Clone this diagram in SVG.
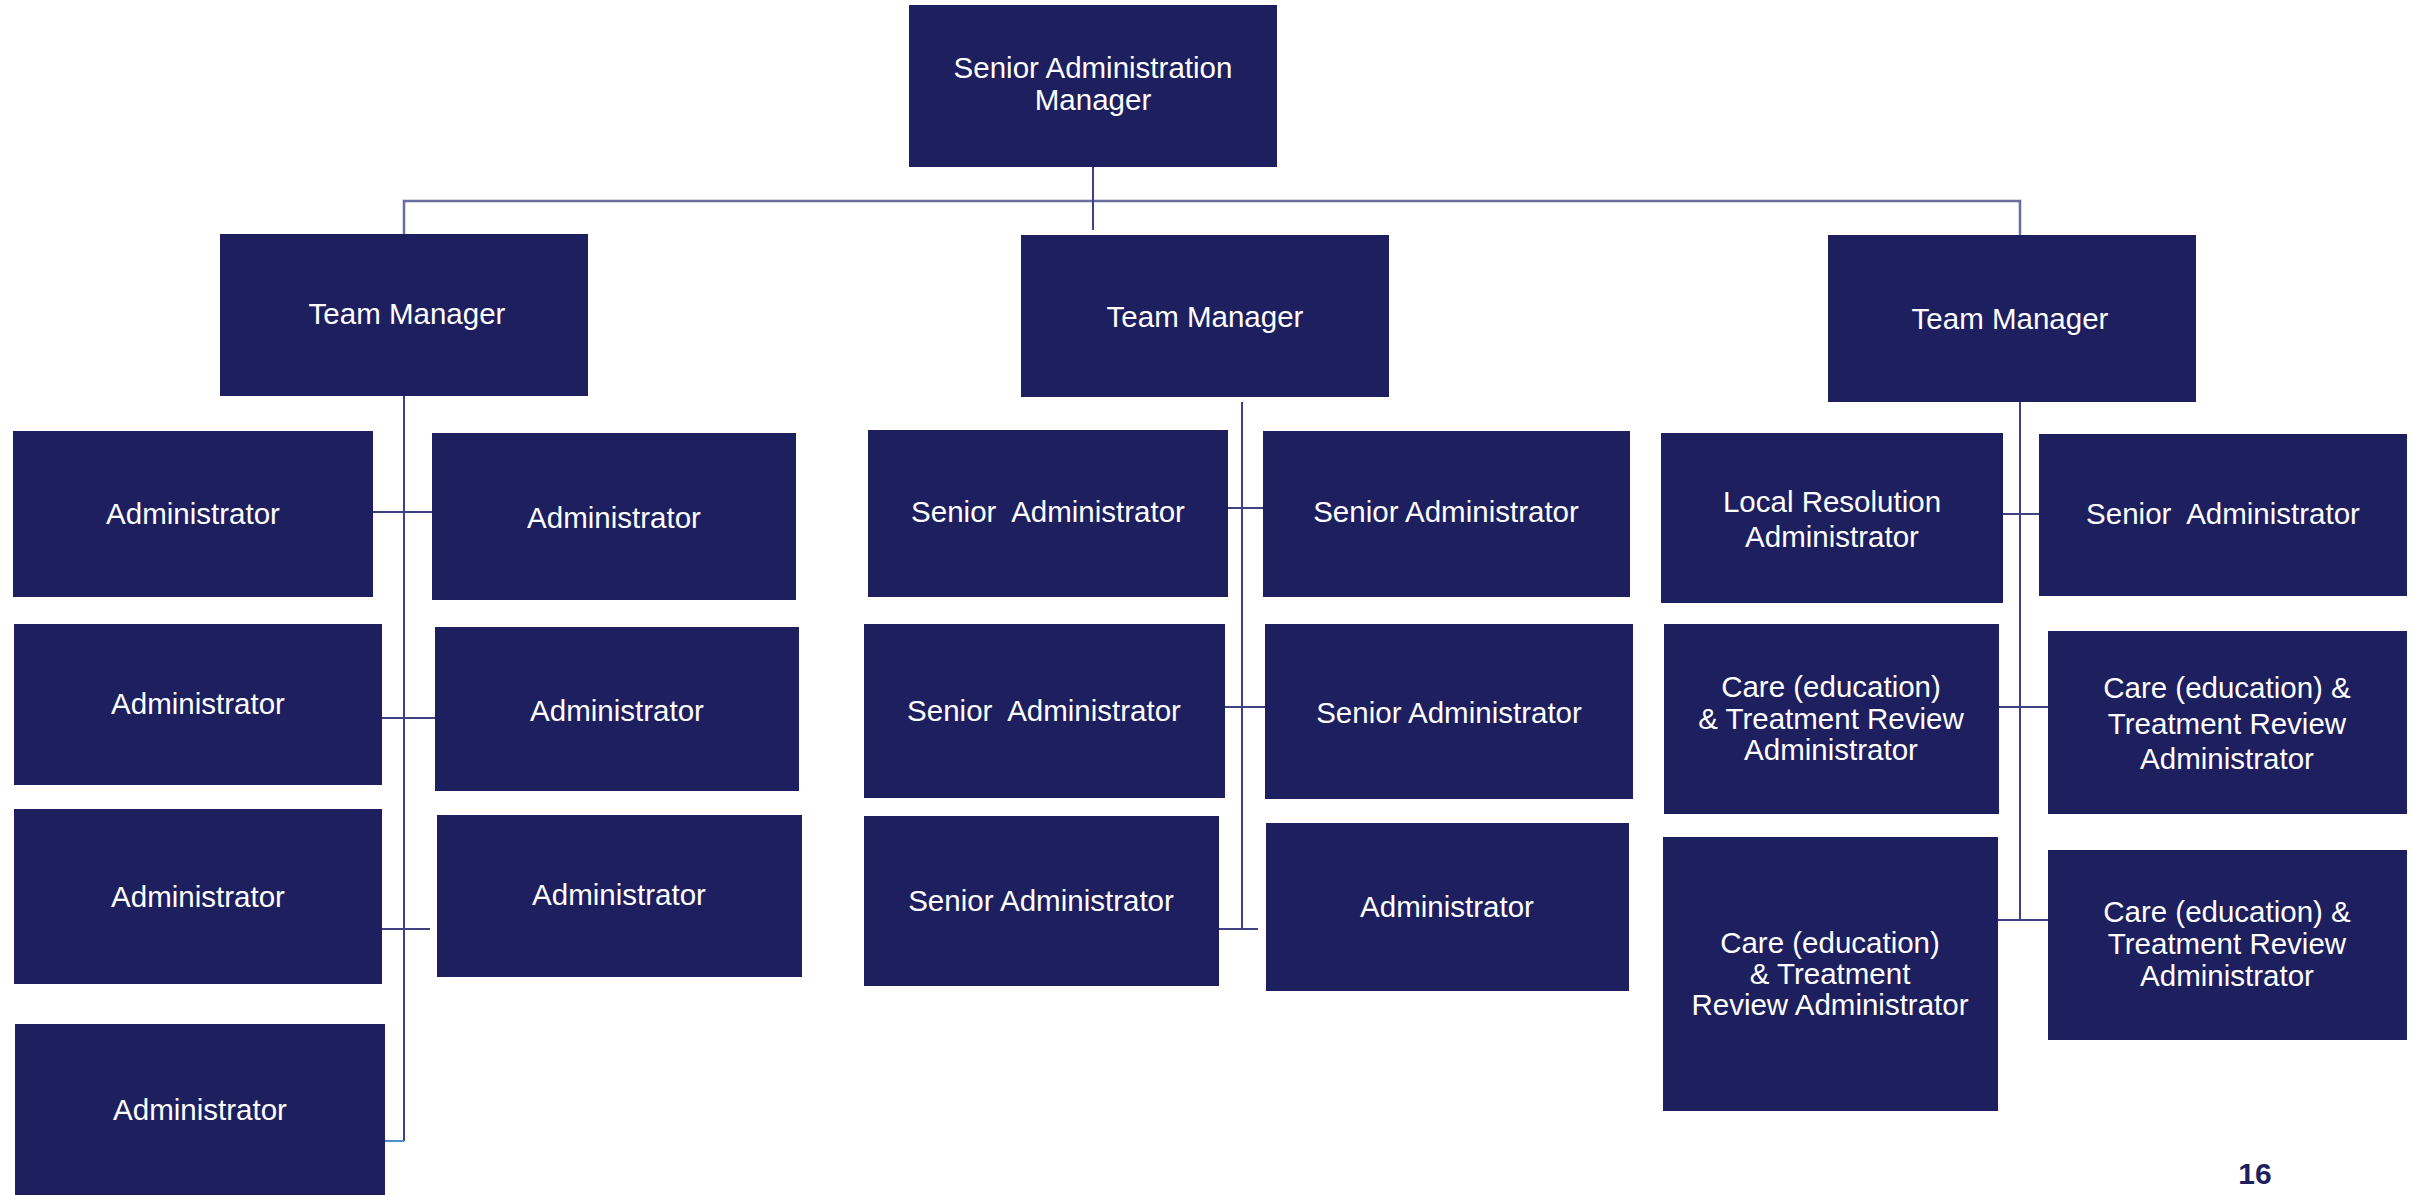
<svg xmlns="http://www.w3.org/2000/svg" width="2412" height="1195" viewBox="0 0 2412 1195">
<style>
.box{fill:#1e1f5f}
.t{font-family:"Liberation Sans",Arial,sans-serif;font-size:29.5px;fill:#ffffff;text-anchor:middle;white-space:pre}
.c{stroke:#3f4282;stroke-width:2;fill:none}
.top{stroke:#6a6da0;stroke-width:2.5;fill:none}
.lb{stroke:#4a8fd0;stroke-width:2;fill:none}
.num{font-family:"Liberation Sans",Arial,sans-serif;font-size:30px;font-weight:bold;fill:#1e1f5f;text-anchor:middle}
</style>
<rect width="2412" height="1195" fill="#ffffff"/>
<g id="connectors">
<polyline class="top" points="404,234 404,201 2020,201 2020,235"/>
<line class="c" x1="1093" y1="167" x2="1093" y2="230"/>
<line class="c" x1="404" y1="396" x2="404" y2="1141"/>
<line class="c" x1="373" y1="512" x2="432" y2="512"/>
<line class="c" x1="382" y1="718" x2="435" y2="718"/>
<line class="c" x1="382" y1="929" x2="430" y2="929"/>
<line class="lb" x1="385" y1="1141" x2="404" y2="1141"/>
<line class="c" x1="1242" y1="402" x2="1242" y2="929"/>
<line class="c" x1="1228" y1="508" x2="1263" y2="508"/>
<line class="c" x1="1225" y1="707" x2="1265" y2="707"/>
<line class="c" x1="1219" y1="929" x2="1258" y2="929"/>
<line class="c" x1="2020" y1="402" x2="2020" y2="920"/>
<line class="c" x1="2003" y1="514" x2="2039" y2="514"/>
<line class="c" x1="1999" y1="707" x2="2048" y2="707"/>
<line class="c" x1="1998" y1="920" x2="2048" y2="920"/>
</g>
<g id="sam"><rect class="box" x="909" y="5" width="368" height="162"/><text class="t" x="1093" y="78">Senior Administration</text><text class="t" x="1093" y="110">Manager</text></g>
<g id="tm1"><rect class="box" x="220" y="234" width="368" height="162"/><text class="t" x="407" y="324">Team Manager</text></g>
<g id="tm2"><rect class="box" x="1021" y="235" width="368" height="162"/><text class="t" x="1205" y="327">Team Manager</text></g>
<g id="tm3"><rect class="box" x="1828" y="235" width="368" height="167"/><text class="t" x="2010" y="329">Team Manager</text></g>

<g id="a1"><rect class="box" x="13" y="431" width="360" height="166"/><text class="t" x="193" y="524">Administrator</text></g>
<g id="a2"><rect class="box" x="432" y="433" width="364" height="167"/><text class="t" x="614" y="528">Administrator</text></g>
<g id="a3"><rect class="box" x="14" y="624" width="368" height="161"/><text class="t" x="198" y="714">Administrator</text></g>
<g id="a4"><rect class="box" x="435" y="627" width="364" height="164"/><text class="t" x="617" y="721">Administrator</text></g>
<g id="a5"><rect class="box" x="14" y="809" width="368" height="175"/><text class="t" x="198" y="907">Administrator</text></g>
<g id="a6"><rect class="box" x="437" y="815" width="365" height="162"/><text class="t" x="619" y="905">Administrator</text></g>
<g id="a7"><rect class="box" x="15" y="1024" width="370" height="171"/><text class="t" x="200" y="1120">Administrator</text></g>

<g id="s1"><rect class="box" x="868" y="430" width="360" height="167"/><text class="t" x="1048" y="522">Senior  Administrator</text></g>
<g id="s2"><rect class="box" x="1263" y="431" width="367" height="166"/><text class="t" x="1446" y="522">Senior Administrator</text></g>
<g id="s3"><rect class="box" x="864" y="624" width="361" height="174"/><text class="t" x="1044" y="721">Senior  Administrator</text></g>
<g id="s4"><rect class="box" x="1265" y="624" width="368" height="175"/><text class="t" x="1449" y="723">Senior Administrator</text></g>
<g id="s5"><rect class="box" x="864" y="816" width="355" height="170"/><text class="t" x="1041" y="911">Senior Administrator</text></g>
<g id="s6"><rect class="box" x="1266" y="823" width="363" height="168"/><text class="t" x="1447" y="917">Administrator</text></g>

<g id="r1"><rect class="box" x="1661" y="433" width="342" height="170"/><text class="t" x="1832" y="512">Local Resolution</text><text class="t" x="1832" y="547">Administrator</text></g>
<g id="r2"><rect class="box" x="2039" y="434" width="368" height="162"/><text class="t" x="2223" y="524">Senior  Administrator</text></g>
<g id="r3"><rect class="box" x="1664" y="624" width="335" height="190"/><text class="t" x="1831" y="697">Care (education)</text><text class="t" x="1831" y="729">&amp; Treatment Review</text><text class="t" x="1831" y="760">Administrator</text></g>
<g id="r4"><rect class="box" x="2048" y="631" width="359" height="183"/><text class="t" x="2227" y="698">Care (education) &amp;</text><text class="t" x="2227" y="734">Treatment Review</text><text class="t" x="2227" y="769">Administrator</text></g>
<g id="r5"><rect class="box" x="1663" y="837" width="335" height="274"/><text class="t" x="1830" y="953">Care (education)</text><text class="t" x="1830" y="984">&amp; Treatment</text><text class="t" x="1830" y="1015">Review Administrator</text></g>
<g id="r6"><rect class="box" x="2048" y="850" width="359" height="190"/><text class="t" x="2227" y="922">Care (education) &amp;</text><text class="t" x="2227" y="954">Treatment Review</text><text class="t" x="2227" y="986">Administrator</text></g>

<text class="num" x="2255" y="1184">16</text>
</svg>
